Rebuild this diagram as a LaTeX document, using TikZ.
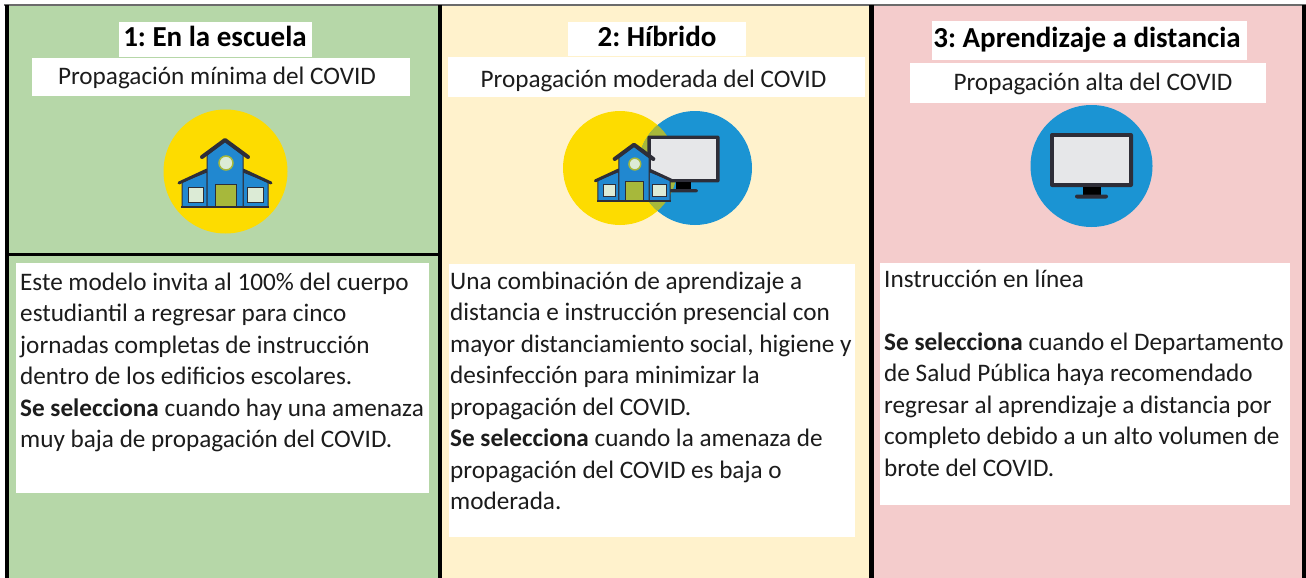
\documentclass[tikz,border=0pt]{standalone}
\usepackage{fontspec}
\setmainfont{Carlito}
\frenchspacing
\definecolor{bgA}{HTML}{B6D7A8}
\definecolor{bgB}{HTML}{FFF2CC}
\definecolor{bgC}{HTML}{F4CCCC}
\definecolor{cyel}{HTML}{FDDC00}
\definecolor{cblue}{HTML}{1B94D3}
\definecolor{colive}{HTML}{A7B83B}
\definecolor{sblue}{HTML}{2188D0}
\definecolor{dk}{HTML}{2E2E38}
\definecolor{scr}{HTML}{E6E7E9}
\definecolor{win}{HTML}{DCEBD6}
\definecolor{txt}{HTML}{1C1C1C}
\definecolor{topline}{HTML}{6B6B6B}
\tikzset{
  school/.pic={
    \filldraw[fill=sblue, draw=dk, line width=1pt] (-43,0) -- (-43,-25) -- (-18,-35) -- (-18,0) -- cycle;
    \filldraw[fill=sblue, draw=dk, line width=1pt] (43,0) -- (43,-25) -- (18,-35) -- (18,0) -- cycle;
    \draw[dk, line width=3pt, line cap=round] (-18,-37) -- (-46,-24);
    \draw[dk, line width=3pt, line cap=round] (18,-37) -- (46,-24);
    \filldraw[fill=sblue, draw=dk, line width=1pt] (-18,0) -- (-18,-52) -- (0,-66) -- (18,-52) -- (18,0) -- cycle;
    \draw[dk, line width=4pt, line cap=round, line join=round] (-23,-50) -- (0,-67) -- (23,-50);
    \filldraw[fill=colive, draw=dk, line width=0.8pt] (-10,0) rectangle (11,-23);
    \filldraw[fill=win, draw=dk, line width=0.8pt] (-37,-5) rectangle (-22,-20);
    \filldraw[fill=win, draw=dk, line width=0.8pt] (22,-5) rectangle (38,-20);
    \filldraw[fill=win, draw=colive, line width=1.5pt] (1,-44) circle (7);
    \draw[dk, line width=2pt] (-44,0) -- (44,0);
  },
  monitor/.pic={
    \fill[dk, rounded corners=2pt] (-41.5,-27) rectangle (41.5,27);
    \fill[scr] (-37.5,-23) rectangle (37.5,23);
    \fill[black] (-9,27) rectangle (9,35);
    \fill[dk, rounded corners=2pt] (-16.5,34.5) rectangle (16.5,38.5);
  }
}
\begin{document}
\begin{tikzpicture}[x=1pt,y=-1pt,
  wbox/.style={fill=white, draw=none, inner sep=0pt, anchor=north west},
  ttl/.style={font=\fontsize{29}{35}\selectfont\bfseries, text=black, inner sep=0pt, anchor=base},
  sub/.style={font=\fontsize{25.2}{30}\selectfont, text=txt, inner sep=0pt, anchor=base},
  body/.style={font=\fontsize{25.2}{31.5}\selectfont, text=txt, inner sep=0pt, align=left, anchor=north west},
  vline/.style={black, line width=4pt}]
\useasboundingbox (0,0) rectangle (1306,578);
% column backgrounds
\fill[bgA] (8,5) rectangle (438,578);
\fill[bgB] (440,5) rectangle (870,578);
\fill[bgC] (872,5) rectangle (1303,578);
% frame lines
\draw[topline, line width=2pt] (4,5) -- (1306,5);
\draw[vline] (6.5,5) -- (6.5,578);
\draw[vline] (439.5,5) -- (439.5,578);
\draw[vline, line width=4.5pt] (871.7,5) -- (871.7,578);
\draw[vline] (1304,5) -- (1304,578);
\draw[black, line width=2.5pt] (8,254.5) -- (438,254.5);

% ---------- column 1 ----------
\node[wbox, minimum width=193, minimum height=35] (tb1) at (119,22) {};
\node[ttl] (t1) at (215,47) {1: En la escuela};
\node[wbox, minimum width=378, minimum height=38] (sb1) at (32,58) {};
\node[sub] (s1) at (217,84.5) {Propagación mínima del COVID};
\fill[cyel] (225.5,171.5) circle (62);
\pic (sch1) at (225,207) {school};
\node[wbox, minimum width=412.6, minimum height=229.6] (b1) at (15.7,262.7) {};
\node[body] (x1) at (20,266) {\rule{0pt}{24pt}Este modelo invita al 100\% del cuerpo\\
estudiantil a regresar para cinco\\
jornadas completas de instrucción\\
dentro de los edificios escolares.\\
\textbf{Se selecciona} cuando hay una amenaza\\
muy baja de propagación del COVID.};

% ---------- column 2 ----------
\node[wbox, minimum width=178, minimum height=34] (tb2) at (568,22) {};
\node[ttl] (t2) at (657,47) {2: Híbrido};
\node[wbox, minimum width=417, minimum height=40] (sb2) at (448,57) {};
\node[sub] (s2) at (653.5,87.3) {Propagación moderada del COVID};
\fill[cyel] (620,168) circle (57);
\fill[cblue] (695,168) circle (57);
\begin{scope}
  \clip (620,168) circle (57);
  \fill[colive] (695,168) circle (57);
\end{scope}
\pic[scale=0.87] (mon2) at (683.5,159) {monitor};
\pic[scale=0.84] (sch2) at (634,201) {school};
\node[wbox, minimum width=406, minimum height=273.4] (b2) at (449,263.3) {};
\node[body] (x2) at (450,265) {\rule{0pt}{24pt}Una combinación de aprendizaje a\\
distancia e instrucción presencial con\\
mayor distanciamiento social, higiene y\\
desinfección para minimizar la\\
propagación del COVID.\\
\textbf{Se selecciona} cuando la amenaza de\\
propagación del COVID es baja o\\
moderada.};

% ---------- column 3 ----------
\node[wbox, minimum width=315, minimum height=39] (tb3) at (932,21) {};
\node[ttl] (t3) at (1087,47.7) {3: Aprendizaje a distancia};
\node[wbox, minimum width=356, minimum height=40] (sb3) at (910,63) {};
\node[sub] (s3) at (1093,90) {Propagación alta del COVID};
\fill[cblue] (1091.5,166) circle (61);
\pic (mon3) at (1091.5,160) {monitor};
\node[wbox, minimum width=409.3, minimum height=241.6] (b3) at (880,262.7) {};
\node[body] (x3) at (884,263) {\rule{0pt}{24pt}Instrucción en línea\\[31.5pt]
\textbf{Se selecciona} cuando el Departamento\\
de Salud Pública haya recomendado\\
regresar al aprendizaje a distancia por\\
completo debido a un alto volumen de\\
brote del COVID.};
\end{tikzpicture}
\end{document}
